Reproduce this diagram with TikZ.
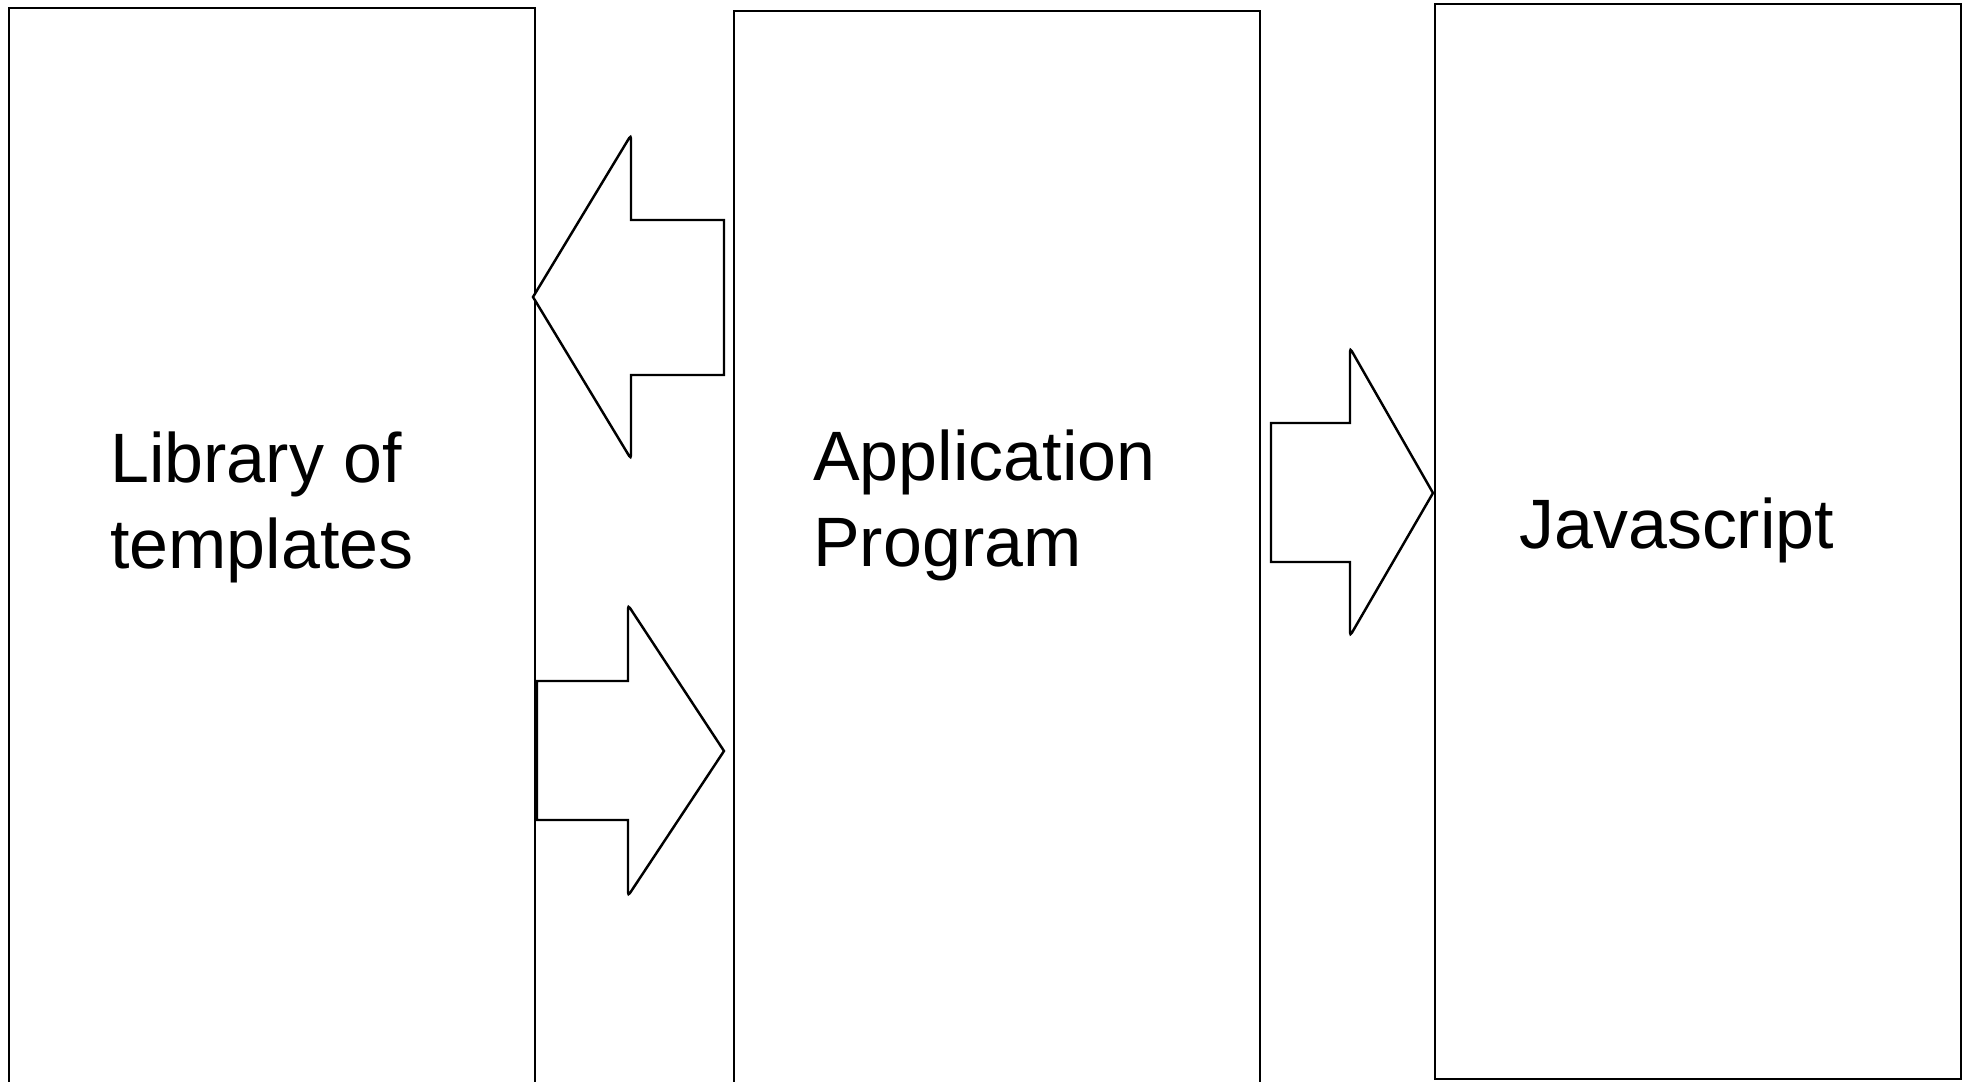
\documentclass[tikz,border=0pt]{standalone}
\usepackage{fontspec}
\setmainfont{Liberation Sans}
\tikzset{
    box/.style={draw=black, line width=1.4pt, rectangle, anchor=north west, inner sep=0pt},
    boxlabel/.style={anchor=base west, align=left, inner sep=0pt, font=\fontsize{39.8}{48.6}\selectfont},
    blockarrow/.style={draw=black, line width=1.4pt, fill=white, line join=miter}
}
\begin{document}
\begin{tikzpicture}[x=0.02cm, y=-0.02cm]
        \useasboundingbox (0, 0) rectangle (1972, 1082);
        \clip (0, 0) rectangle (1972, 1082);
        \fill [white] (0, 0) rectangle (1972, 1082);
        \node [box, minimum width=10.52cm, minimum height=21.86cm] (lib) at (8, 7) {};
        \node [box, minimum width=10.52cm, minimum height=21.8cm] (app) at (733, 10) {};
        \node [box, minimum width=10.52cm, minimum height=21.5cm] (js) at (1434, 3) {};
        \node [boxlabel] (liblabel) at (110, 568) {Library of\\templates};
        \node [boxlabel] (applabel) at (813, 566) {Application\\Program};
        \node [boxlabel] (jslabel) at (1519, 548) {Javascript};
        \draw [blockarrow] (533, 297) [rounded corners=2pt] -- (631, 135) [sharp corners] -- (631, 220) -- (724, 220) -- (724, 375) -- (631, 375) [rounded corners=2pt] -- (631, 459) [sharp corners] -- cycle;
        \draw [blockarrow] (724, 751) [rounded corners=2pt] -- (628, 605) [sharp corners] -- (628, 681) -- (537, 681) -- (537, 820) -- (628, 820) [rounded corners=2pt] -- (628, 896) [sharp corners] -- cycle;
        \draw [blockarrow] (1433, 493) [rounded corners=2pt] -- (1350, 348) [sharp corners] -- (1350, 423) -- (1271, 423) -- (1271, 562) -- (1350, 562) [rounded corners=2pt] -- (1350, 636) [sharp corners] -- cycle;
    \end{tikzpicture}
\end{document}
